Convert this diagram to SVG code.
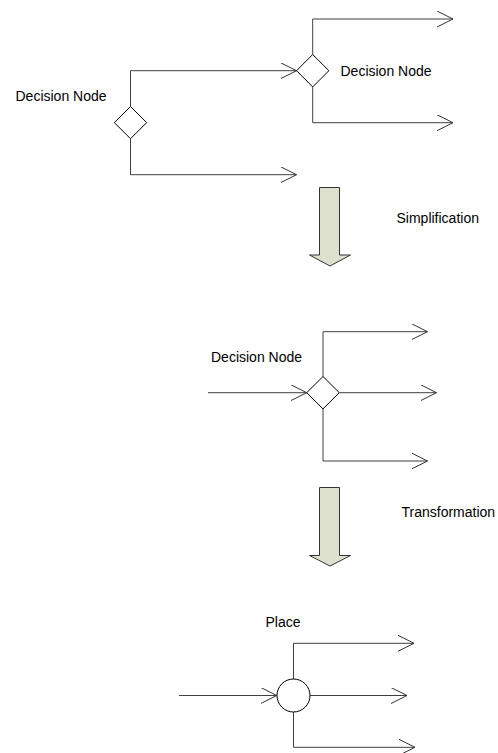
<svg xmlns="http://www.w3.org/2000/svg" width="498" height="753" viewBox="0 0 498 753">
<defs>
<marker id="open" markerWidth="18" markerHeight="18" refX="16" refY="8" orient="auto" markerUnits="userSpaceOnUse">
<path d="M0,0 L16,8 L0,16" fill="none" stroke="#333" stroke-width="1"/>
</marker>
<style>
.edge{fill:none;stroke:#404040;stroke-width:1;marker-end:url(#open)}
.node{fill:#fff;stroke:#000;stroke-width:1}
.bigarrow{fill:#dde0cc;stroke:#333;stroke-width:1}
text{font-family:"Liberation Sans",Arial,sans-serif;font-size:14px;fill:#000}
</style>
</defs>
<rect width="498" height="753" fill="#fff"/>
<g id="connectors">
<path class="edge" d="M130.5,106.5 V70.7 H296.5"/>
<path class="edge" d="M130.5,138.5 V174.7 H296.5"/>
<path class="edge" d="M312.7,54.5 V19 H453"/>
<path class="edge" d="M312.7,87 V122.7 H453"/>
<path class="edge" d="M208,392.7 H306.7"/>
<path class="edge" d="M339.3,392.7 H436.5"/>
<path class="edge" d="M323,376.5 V331.7 H427.5"/>
<path class="edge" d="M323,409 V461 H427.5"/>
<path class="edge" d="M179,695.5 H276.8"/>
<path class="edge" d="M310,695.5 H407"/>
<path class="edge" d="M293.5,679 V643.3 H414"/>
<path class="edge" d="M293.5,712 V747.3 H415"/>
</g>
<g id="decision1">
<polygon class="node" points="130.5,106.5 146.7,122.6 130.5,138.7 114.3,122.6"/>
<text x="15.5" y="101">Decision Node</text>
</g>
<g id="decision2">
<polygon class="node" points="312.7,54.5 328.9,70.7 312.7,86.9 296.5,70.7"/>
<text x="340.5" y="75.5">Decision Node</text>
</g>
<g id="simplification">
<path class="bigarrow" d="M319.5,187.5 H339.5 V255 H350.5 L330,266 L309.5,255 H319.5 Z"/>
<text x="396.5" y="222.5">Simplification</text>
</g>
<g id="decision3">
<polygon class="node" points="323,376.5 339.3,392.7 323,408.9 306.7,392.7"/>
<text x="211" y="362">Decision Node</text>
</g>
<g id="transformation">
<path class="bigarrow" d="M319.5,487.5 H339.5 V555.5 H350.5 L330,566 L309.5,555.5 H319.5 Z"/>
<text x="401.5" y="517">Transformation</text>
</g>
<g id="place">
<circle class="node" cx="293.5" cy="695.5" r="16.5"/>
<text x="265.5" y="627">Place</text>
</g>
</svg>
